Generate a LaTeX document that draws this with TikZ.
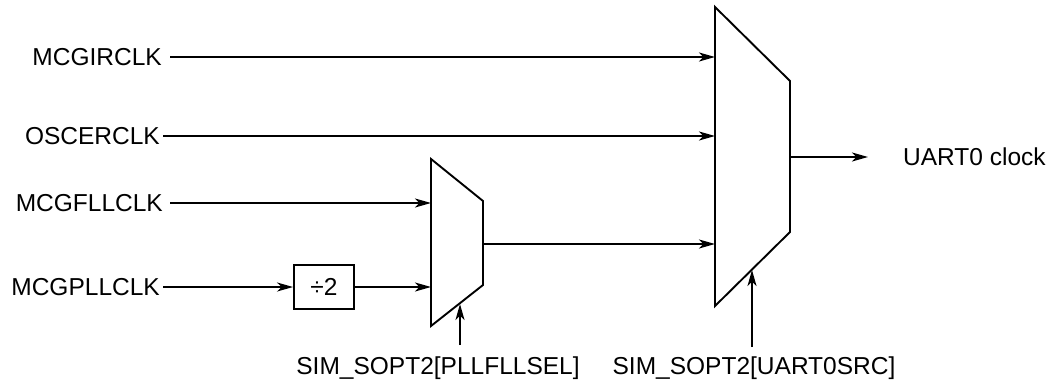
\documentclass[tikz,border=0pt]{standalone}
\usepackage{fontspec}
\setmainfont{Liberation Sans}
\usetikzlibrary{arrows.meta}
\begin{document}
\begin{tikzpicture}[x=1pt,y=-1pt,
  lbl/.style={inner sep=0pt,font=\fontsize{24.5}{29}\selectfont},
  sig/.style={line width=1.6pt,-{Stealth[length=16pt,width=9pt,inset=4.5pt]}},
  muxline/.style={line width=1.9pt,line join=miter},
  divbox/.style={draw,line width=1.9pt,minimum width=60pt,minimum height=44pt,inner sep=0pt,font=\fontsize{24.5}{29}\selectfont}]
\useasboundingbox (0,0) rectangle (1055,386);
% small mux
\coordinate (s1) at (431,159);
\coordinate (s2) at (483,201);
\coordinate (s3) at (483,285);
\coordinate (s4) at (431,326);
\draw[muxline] (s1) -- (s2) -- (s3) -- (s4) -- cycle;
% big mux
\coordinate (b1) at (715,7);
\coordinate (b2) at (790,81);
\coordinate (b3) at (790,232);
\coordinate (b4) at (715,306);
\draw[muxline] (b1) -- (b2) -- (b3) -- (b4) -- cycle;
% ports
\coordinate (bin1) at (715,57);
\coordinate (bin2) at (715,136);
\coordinate (bin3) at (715,244);
\coordinate (bout) at (790,157);
\coordinate (bsel) at (752,270);
\coordinate (sin1) at (431,203);
\coordinate (sin2) at (431,287);
\coordinate (sout) at (483,244);
\coordinate (ssel) at (460,304);
\coordinate (oend) at (868,157);
\coordinate (ssrc) at (460,345);
\coordinate (bsrc) at (752,347);
% labels
\node[lbl,anchor=east] (irc) at (162,57) {MCGIRCLK};
\node[lbl,anchor=east] (osc) at (160,136) {OSCERCLK};
\node[lbl,anchor=east] (fll) at (163,203) {MCGFLLCLK};
\node[lbl,anchor=east] (pll) at (160,287) {MCGPLLCLK};
\node[divbox] (div) at (324,287) {÷2};
\node[lbl,anchor=west] (uart) at (903,157) {UART0 clock};
\node[lbl,anchor=base] (psel) at (438,374) {SIM\_SOPT2[PLLFLLSEL]};
\node[lbl,anchor=base] (usel) at (754,374) {SIM\_SOPT2[UART0SRC]};
% connectors
\draw[sig,shorten <=8pt] (irc.east) -- (bin1);
\draw[sig,shorten <=3pt] (osc.east) -- (bin2);
\draw[sig,shorten <=7pt] (fll.east) -- (sin1);
\draw[sig,shorten <=3pt] (pll.east) -- (div.west);
\draw[sig] (div.east) -- (sin2);
\draw[sig] (sout) -- (bin3);
\draw[sig] (bout) -- (oend);
\draw[sig] (ssrc) -- (ssel);
\draw[sig] (bsrc) -- (bsel);
\end{tikzpicture}
\end{document}
